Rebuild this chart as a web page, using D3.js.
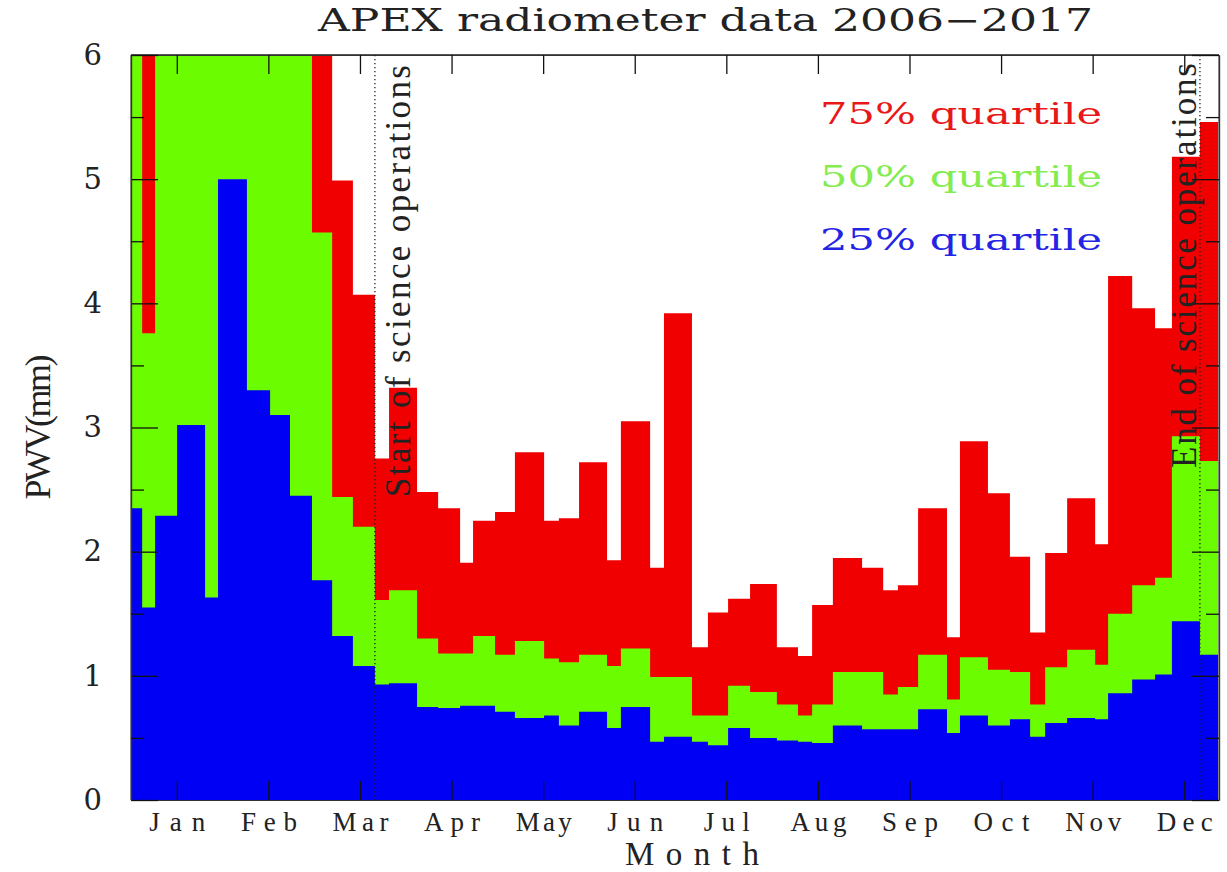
<!DOCTYPE html>
<html>
<head>
<meta charset="utf-8">
<script src="https://cdn.jsdelivr.net/npm/d3@7"></script>
<style>
body { margin: 0; background: #fff; }
</style>
</head>
<body>
<div id="chart"></div>
<script>
// start day (day of year) of every bin, the last bin closes at binEnd
var binStart = [0, 3.7, 8.0, 15.3, 24.6, 28.9, 38.5, 46.2, 52.8, 60.1,
	66.8, 73.7, 81.0, 85.7, 95.0, 102.0, 109.3, 113.6, 120.9, 127.5,
	137.2, 142.1, 148.8, 158.1, 162.7, 172.4, 177.0, 186.3, 191.6, 198.3,
	205.6, 214.5, 221.5, 226.2, 233.1, 242.8, 249.8, 254.7, 261.4, 271.0,
	275.3, 284.6, 291.9, 298.6, 303.6, 310.9, 320.2, 324.5, 332.5, 340.1,
	345.7, 355.0];
var binEnd = 361;

// PWV (mm) per bin; values above 6 run off the top of the plot
var q75 = [7.0, 6.8, 6.9, 7.2, 7.0, 7.5, 7.3, 7.1, 6.9, 6.5,
	4.99, 4.07, 2.75, 3.32, 2.48, 2.35, 1.91, 2.25, 2.32, 2.80,
	2.25, 2.27, 2.72, 1.93, 3.05, 1.87, 3.92, 1.23, 1.51, 1.62,
	1.74, 1.23, 1.16, 1.57, 1.95, 1.87, 1.69, 1.73, 2.35, 1.31,
	2.89, 2.47, 1.96, 1.35, 1.99, 2.43, 2.06, 4.22, 3.96, 3.80,
	5.18, 5.46];
var q50 = [6.6, 3.76, 6.7, 6.8, 6.5, 6.9, 6.6, 6.4, 6.2, 4.57,
	2.44, 2.20, 1.61, 1.69, 1.30, 1.18, 1.18, 1.32, 1.17, 1.28,
	1.14, 1.11, 1.17, 1.08, 1.22, 0.99, 0.99, 0.68, 0.68, 0.92,
	0.87, 0.77, 0.68, 0.77, 1.03, 1.03, 0.85, 0.91, 1.17, 0.81,
	1.15, 1.05, 1.03, 0.77, 1.07, 1.21, 1.09, 1.50, 1.73, 1.79,
	2.93, 2.73];
var q25 = [2.35, 1.55, 2.29, 3.02, 1.63, 5.0, 3.30, 3.10, 2.45, 1.77,
	1.32, 1.08, 0.93, 0.94, 0.75, 0.74, 0.76, 0.76, 0.71, 0.66,
	0.68, 0.60, 0.71, 0.58, 0.75, 0.47, 0.51, 0.47, 0.44, 0.58,
	0.50, 0.48, 0.47, 0.46, 0.60, 0.57, 0.57, 0.57, 0.73, 0.54,
	0.68, 0.60, 0.65, 0.51, 0.62, 0.66, 0.65, 0.86, 0.97, 1.01,
	1.44, 1.17];

var monthNames = ["Jan", "Feb", "Mar", "Apr", "May", "Jun", "Jul", "Aug", "Sep", "Oct", "Nov", "Dec"];
var yMajor = [0, 1, 2, 3, 4, 5, 6];
var yMinor = [0.5, 1.5, 2.5, 3.5, 4.5, 5.5];
var sciStartDay = 81;
var sciEndDay = 355;

var W = 1227, H = 872;
var RED = "#f00000", GREEN = "#6cfc00", BLUE = "#0000f5";
var SERIF = "'DejaVu Serif', serif";
var TIMES = "'Liberation Serif', 'Times New Roman', serif";

var x = d3.scaleLinear().domain([0, binEnd]).range([131, 1218]);
var y = d3.scaleLinear().domain([0, 6]).range([800, 55]);
var monthDays = monthNames.map(function (m, i) { return (i + 0.5) * 365 / 12; });

var svg = d3.select("#chart").append("svg")
	.attr("width", W)
	.attr("height", H);

svg.append("defs").append("clipPath").attr("id", "plotClip")
	.append("rect")
	.attr("x", x(0)).attr("y", y(6))
	.attr("width", x(binEnd) - x(0))
	.attr("height", y(0) - y(6));

// frame lines under the bars
var frame = svg.append("g").attr("stroke", "#555").attr("stroke-width", 1.2);
frame.append("line").attr("x1", x(0)).attr("x2", x(binEnd) + 1).attr("y1", y(6) - 0.5).attr("y2", y(6) - 0.5);
frame.append("line").attr("x1", x(binEnd) + 1).attr("x2", x(binEnd) + 1).attr("y1", y(6)).attr("y2", y(0));
frame.append("line").attr("x1", x(0)).attr("x2", x(0)).attr("y1", y(6)).attr("y2", y(0));

function stepData(vals) {
	var pts = binStart.map(function (d, i) { return { d: d, v: vals[i] }; });
	pts.push({ d: binEnd, v: vals[vals.length - 1] });
	return pts;
}

var area = d3.area()
	.x(function (p) { return x(p.d); })
	.y0(y(0))
	.y1(function (p) { return y(p.v); })
	.curve(d3.curveStepAfter);

var series = [
	{ label: "75% quartile", vals: q75, color: RED, text: "#e81818" },
	{ label: "50% quartile", vals: q50, color: GREEN, text: "#84ec50" },
	{ label: "25% quartile", vals: q25, color: BLUE, text: "#2424e4" }
];

var plot = svg.append("g").attr("clip-path", "url(#plotClip)");
series.forEach(function (s) {
	plot.append("path")
		.datum(stepData(s.vals))
		.attr("d", area)
		.attr("fill", s.color);
});

// axes: ticks point inwards on all four sides
function styleAxis(g) {
	g.select(".domain").attr("stroke", "#333").attr("stroke-width", 1.2);
	g.selectAll(".tick line").attr("stroke", "#111").attr("stroke-width", 1.3);
}

svg.append("g")
	.attr("transform", "translate(0," + y(0) + ")")
	.call(d3.axisBottom(x).tickValues(monthDays).tickSize(-19).tickSizeOuter(0).tickPadding(12)
		.tickFormat(function (d, i) { return monthNames[i]; }))
	.call(styleAxis)
	.call(function (g) {
		g.selectAll(".tick text")
			.attr("font-family", TIMES)
			.attr("font-size", 27)
			.attr("fill", "#222")
			.attr("textLength", function (d, i) { return monthNames[i] === "Jul" ? 46 : 56; })
			.attr("lengthAdjust", "spacing");
	});

svg.append("g")
	.attr("transform", "translate(0," + y(6) + ")")
	.call(d3.axisTop(x).tickValues(monthDays).tickSize(-19).tickSizeOuter(0).tickFormat(""))
	.call(styleAxis);

svg.append("g")
	.attr("transform", "translate(" + x(0) + ",0)")
	.call(d3.axisLeft(y).tickValues(yMajor).tickSize(-27).tickSizeOuter(0).tickPadding(29)
		.tickFormat(d3.format("d")))
	.call(styleAxis)
	.call(function (g) {
		g.selectAll(".tick text")
			.attr("font-family", SERIF)
			.attr("font-size", 29)
			.attr("fill", "#222");
	});

svg.append("g")
	.attr("transform", "translate(" + x(0) + ",0)")
	.call(d3.axisLeft(y).tickValues(yMinor).tickSize(-13).tickSizeOuter(0).tickFormat(""))
	.call(styleAxis);

svg.append("g")
	.attr("transform", "translate(" + (x(binEnd) + 1) + ",0)")
	.call(d3.axisRight(y).tickValues(yMajor).tickSize(-27).tickSizeOuter(0).tickFormat(""))
	.call(styleAxis);

svg.append("g")
	.attr("transform", "translate(" + (x(binEnd) + 1) + ",0)")
	.call(d3.axisRight(y).tickValues(yMinor).tickSize(-13).tickSizeOuter(0).tickFormat(""))
	.call(styleAxis);

// science operation markers
[sciStartDay, sciEndDay].forEach(function (d) {
	svg.append("line")
		.attr("x1", x(d)).attr("x2", x(d))
		.attr("y1", y(6)).attr("y2", y(0))
		.attr("stroke", "#222")
		.attr("stroke-width", 1.3)
		.attr("stroke-dasharray", "1.3,2.7");
});

svg.append("text")
	.attr("transform", "translate(" + (x(sciStartDay) + 35) + ",497) rotate(-90)")
	.attr("font-family", TIMES)
	.attr("font-size", 35)
	.attr("fill", "#222")
	.attr("textLength", 432)
	.attr("lengthAdjust", "spacing")
	.text("Start of science operations");

svg.append("text")
	.attr("transform", "translate(" + (x(sciEndDay) - 4) + ",468) rotate(-90)")
	.attr("font-family", TIMES)
	.attr("font-size", 35)
	.attr("fill", "#222")
	.attr("textLength", 405)
	.attr("lengthAdjust", "spacing")
	.text("End of science operations");

// legend
series.forEach(function (s, i) {
	svg.append("text")
		.attr("x", 820)
		.attr("y", 124 + i * 63)
		.attr("font-family", SERIF)
		.attr("font-size", 30)
		.attr("fill", s.text)
		.attr("textLength", 282)
		.attr("lengthAdjust", "spacingAndGlyphs")
		.text(s.label);
});

// titles
svg.append("text")
	.attr("x", 318).attr("y", 31)
	.attr("font-family", SERIF)
	.attr("font-size", 31)
	.attr("fill", "#222")
	.attr("textLength", 775)
	.attr("lengthAdjust", "spacingAndGlyphs")
	.text("APEX radiometer data 2006\u22122017");

svg.append("text")
	.attr("x", 692).attr("y", 865)
	.attr("text-anchor", "middle")
	.attr("font-family", TIMES)
	.attr("font-size", 33)
	.attr("fill", "#222")
	.attr("textLength", 134)
	.attr("lengthAdjust", "spacing")
	.text("Month");

svg.append("text")
	.attr("transform", "translate(50,427) rotate(-90)")
	.attr("text-anchor", "middle")
	.attr("font-family", TIMES)
	.attr("font-size", 36)
	.attr("fill", "#222")
	.attr("textLength", 145)
	.attr("lengthAdjust", "spacing")
	.text("PWV(mm)");
</script>
</body>
</html>
